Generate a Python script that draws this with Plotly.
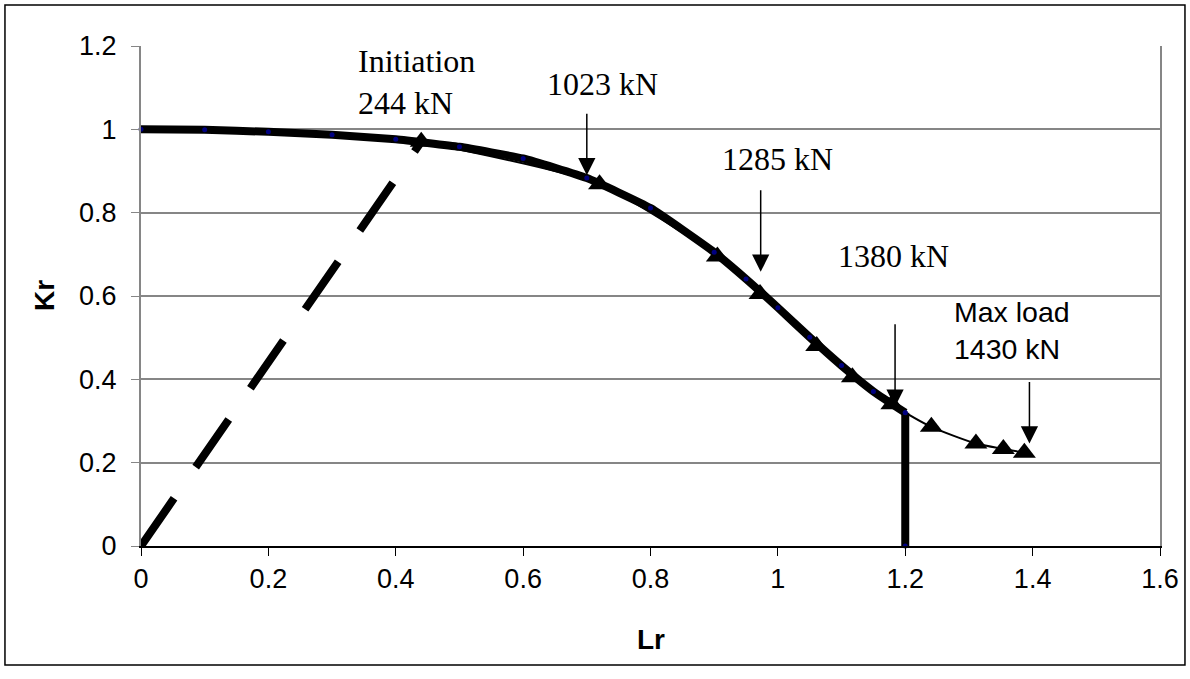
import plotly.graph_objects as go

# Failure assessment curve (Option 1): Lr vs Kr, with cut-off at Lr = 1.2
fad_lr = [0.0, 0.1, 0.2, 0.3, 0.4, 0.5, 0.6, 0.7, 0.8, 0.9, 0.95, 1.0, 1.05, 1.1, 1.15, 1.2, 1.2]
fad_kr = [1.0, 0.999, 0.994, 0.987, 0.976, 0.958, 0.930, 0.883, 0.811, 0.705, 0.641, 0.572, 0.501, 0.433, 0.371, 0.320, 0.0]

# Load line from the origin to the initiation point
load_lr = [0.0, 0.44]
load_kr = [0.0, 0.970]

# Assessment points during loading
pts_lr = [0.44, 0.72, 0.905, 0.972, 1.061, 1.117, 1.179, 1.241, 1.311, 1.354, 1.387]
pts_kr = [0.970, 0.868, 0.695, 0.605, 0.480, 0.405, 0.340, 0.286, 0.246, 0.233, 0.224]

# Arrow markers: arrow x, arrow tip y, tail length (px)
arrow_x = [0.700, 0.973, 1.184, 1.395]
arrow_tip = [0.890, 0.658, 0.334, 0.246]
arrow_len = [63, 83, 84, 63]

x_ticks = [0, 0.2, 0.4, 0.6, 0.8, 1.0, 1.2, 1.4, 1.6]
y_ticks = [0, 0.2, 0.4, 0.6, 0.8, 1.0, 1.2]

SANS = "Liberation Sans, Arial, sans-serif"
SERIF = "Liberation Serif, Times New Roman, serif"
GRID = "#868686"
NAVY = "#000080"

fig = go.Figure()

fig.add_trace(go.Scatter(
    x=load_lr, y=load_kr, mode="lines",
    line=dict(color="black", width=8, dash="58px,38px"),
    cliponaxis=False, showlegend=False,
))
fig.add_trace(go.Scatter(
    x=pts_lr, y=pts_kr, mode="lines+markers",
    line=dict(color="black", width=2, shape="spline", smoothing=0.6),
    marker=dict(symbol="triangle-up", size=20, color="black"),
    cliponaxis=False, showlegend=False,
))
# smooth part of the assessment curve
fig.add_trace(go.Scatter(
    x=fad_lr[:-1], y=fad_kr[:-1], mode="lines+markers",
    line=dict(color="black", width=8, shape="spline", smoothing=0.4),
    marker=dict(symbol="circle", size=5, color=NAVY),
    cliponaxis=False, showlegend=False,
))
# vertical cut-off at Lr max
fig.add_trace(go.Scatter(
    x=fad_lr[-2:], y=fad_kr[-2:], mode="lines+markers",
    line=dict(color="black", width=8),
    marker=dict(symbol="circle", size=5, color=NAVY),
    cliponaxis=False, showlegend=False,
))

annotations = []
for ax_, tip, ln in zip(arrow_x, arrow_tip, arrow_len):
    annotations.append(dict(
        x=ax_, y=tip, xref="x", yref="y", text="", showarrow=True,
        ax=0, ay=-ln, arrowhead=2, arrowsize=2.3, arrowwidth=1.5, arrowcolor="black",
    ))

serif_font = dict(family=SERIF, size=32, color="black")
sans_font = dict(family=SANS, size=28.5, color="black")
annotations += [
    dict(x=0.337, y=1.113, xref="x", yref="y", text="Initiation<br>244 kN",
         showarrow=False, xanchor="left", yanchor="middle", align="left", font=serif_font),
    dict(x=0.7254, y=1.109, xref="x", yref="y", text="1023 kN",
         showarrow=False, xanchor="center", yanchor="middle", font=serif_font),
    dict(x=1.0, y=0.929, xref="x", yref="y", text="1285 kN",
         showarrow=False, xanchor="center", yanchor="middle", font=serif_font),
    dict(x=1.1823, y=0.696, xref="x", yref="y", text="1380 kN",
         showarrow=False, xanchor="center", yanchor="middle", font=serif_font),
    dict(x=1.2734, y=0.517, xref="x", yref="y", text="Max load<br>1430 kN",
         showarrow=False, xanchor="left", yanchor="middle", align="left", font=sans_font),
    dict(x=-0.0952, y=0.502, xref="paper", yref="paper", text="<b>Kr</b>", textangle=-90,
         showarrow=False, xanchor="center", yanchor="middle",
         font=dict(family=SANS, size=28, color="black")),
    dict(x=0.5005, y=-0.186, xref="paper", yref="paper", text="<b>Lr</b>",
         showarrow=False, xanchor="center", yanchor="middle",
         font=dict(family=SANS, size=28, color="black")),
]

fig.update_layout(
    width=1190, height=679, autosize=False,
    margin=dict(l=141, r=30, t=46, b=133, pad=0),
    paper_bgcolor="white", plot_bgcolor="white",
    font=dict(family=SANS, size=27, color="black"),
    annotations=annotations,
    shapes=[
        # outer chart border
        dict(type="rect", xref="paper", yref="paper",
             x0=-0.1335, x1=1.0245, y0=-0.238, y1=1.082,
             line=dict(color="black", width=1.5), layer="below"),
        # darker gridline at Kr = 0.6
        dict(type="line", xref="paper", yref="y", x0=0, x1=1, y0=0.6, y1=0.6,
             line=dict(color="black", width=1), layer="below"),
    ],
    xaxis=dict(
        range=[0, 1.6], tickmode="array", tickvals=x_ticks,
        ticktext=[f"{v:g}" for v in x_ticks],
        showgrid=False, zeroline=False,
        showline=True, linecolor="black", linewidth=1.5,
        ticks="outside", ticklen=8, tickwidth=1, tickcolor="black",
        ticklabelstandoff=0,
        tickfont=dict(family=SANS, size=27, color="black"),
    ),
    yaxis=dict(
        range=[0, 1.2], tickmode="array", tickvals=y_ticks,
        ticktext=[f"{v:g}" for v in y_ticks],
        showgrid=True, gridcolor=GRID, gridwidth=1.5, zeroline=False,
        showline=True, linecolor=GRID, linewidth=2, mirror=True,
        ticks="outside", ticklen=8, tickwidth=1, tickcolor=GRID,
        ticklabelstandoff=9,
        tickfont=dict(family=SANS, size=27, color="black"),
    ),
)

fig.write_html("out.html")
